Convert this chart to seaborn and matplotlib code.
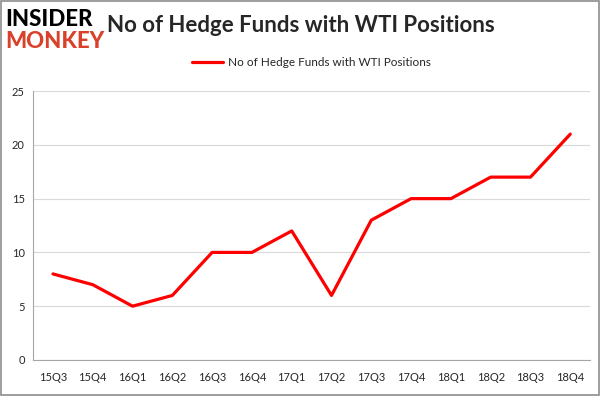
import numpy as np
import pandas as pd
import matplotlib
matplotlib.use("Agg")
import matplotlib.pyplot as plt
import seaborn as sns
from matplotlib.patches import Rectangle

# Chart data
quarters = ["15Q3", "15Q4", "16Q1", "16Q2", "16Q3", "16Q4", "17Q1",
            "17Q2", "17Q3", "17Q4", "18Q1", "18Q2", "18Q3", "18Q4"]
num_funds = [8, 7, 5, 6, 10, 10, 12, 6, 13, 15, 15, 17, 17, 21]
y_ticks = [0, 5, 10, 15, 20, 25]

series_name = "No of Hedge Funds with WTI Positions"
df = pd.DataFrame({"pos": np.arange(len(quarters)), "funds": num_funds})

sns.set_style("white")
plt.rcParams["font.family"] = ["Lato", "DejaVu Sans"]

fig = plt.figure(figsize=(6.01, 3.96), dpi=100)
ax = fig.add_axes([0.055, 0.091, 0.927, 0.679])

sns.lineplot(data=df, x="pos", y="funds", ax=ax, color="#ff0000",
             linewidth=2.3, label=series_name, legend=False)

ax.set_xlim(-0.5, len(quarters) - 0.5)
ax.set_ylim(0, 25)
ax.set_yticks(y_ticks)
ax.set_yticklabels([str(v) for v in y_ticks], fontsize=8)
ax.yaxis.grid(True, color="#d9d9d9", linewidth=0.8)
ax.set_axisbelow(True)

# category labels centered, ticks at boundaries
ax.set_xticks(np.arange(len(quarters)))
ax.set_xticklabels(quarters, fontsize=8)
ax.tick_params(axis="x", length=0, pad=9)
ax.tick_params(axis="y", length=0, pad=6)
ax.set_xticks(np.arange(-0.5, len(quarters)), minor=True)
ax.tick_params(axis="x", which="minor", length=4, color="#a6a6a6", width=0.8)
ax.set_xlabel("")
ax.set_ylabel("")

for side in ["top", "right"]:
    ax.spines[side].set_visible(False)
for side in ["left", "bottom"]:
    ax.spines[side].set_color("#a6a6a6")
    ax.spines[side].set_linewidth(0.8)

# legend above plot
ax.legend(loc="center", bbox_to_anchor=(0.5, 1.107), frameon=False,
          fontsize=8.5, handlelength=2.6, handletextpad=0.5)

# title and logo
fig.text(0.5, 0.935, series_name, ha="center", va="center",
         fontsize=16, fontweight="bold")
fig.text(0.008, 0.95, "INSIDER", ha="left", va="center", fontsize=16,
         fontweight="black", color="black")
fig.text(0.008, 0.895, "MONKEY", ha="left", va="center", fontsize=16,
         fontweight="black", color="#d9412b")

# outer border
fig.patches.append(Rectangle((0.0015, 0.002), 0.996, 0.995, transform=fig.transFigure,
                             fill=False, edgecolor="#8c8c8c", linewidth=1.2))

fig.savefig("out.png", dpi=100)
